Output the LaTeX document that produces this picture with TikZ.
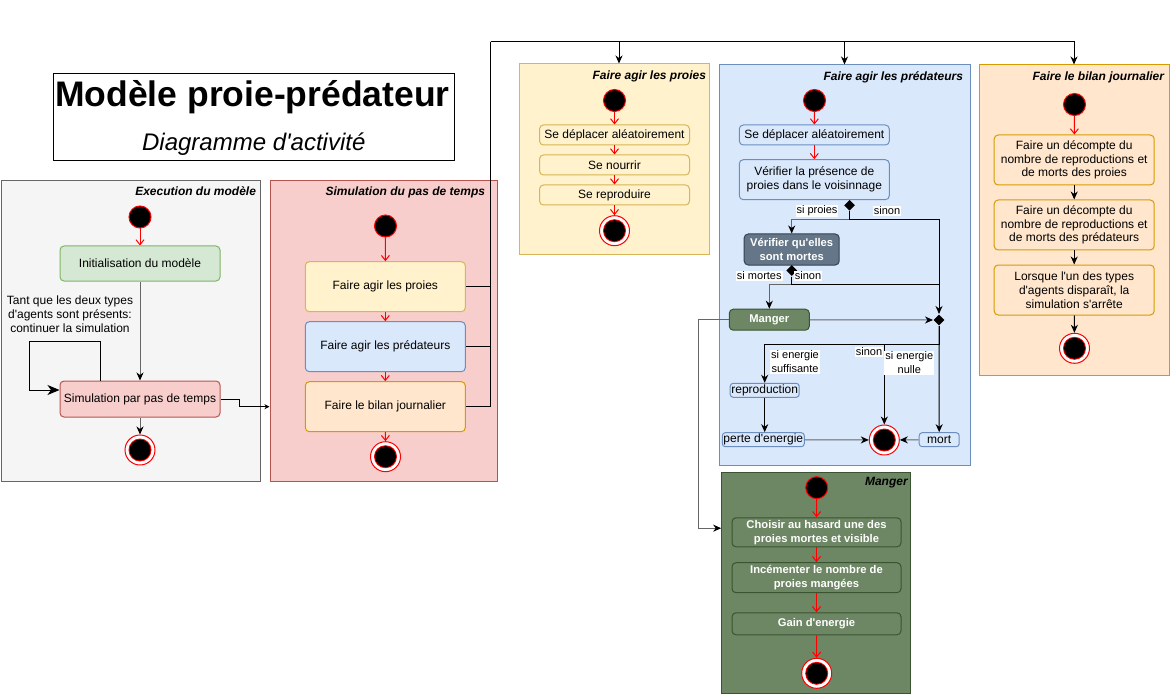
\documentclass[tikz,border=0pt]{standalone}
\usepackage{fontspec}
\setmainfont{Liberation Sans}
\usetikzlibrary{arrows.meta,shapes.geometric}

% Colours of the panels and boxes
\definecolor{execfill}{HTML}{F5F5F5}
\definecolor{execline}{HTML}{666666}
\definecolor{redfill}{HTML}{F8CECC}
\definecolor{redline}{HTML}{B85450}
\definecolor{greenfill}{HTML}{D5E8D4}
\definecolor{greenline}{HTML}{82B366}
\definecolor{yellowfill}{HTML}{FFF2CC}
\definecolor{yellowline}{HTML}{D6B656}
\definecolor{bluefill}{HTML}{DAE8FC}
\definecolor{blueline}{HTML}{6C8EBF}
\definecolor{orangefill}{HTML}{FFE6CC}
\definecolor{orangeline}{HTML}{D79B00}
\definecolor{slatefill}{HTML}{647687}
\definecolor{slateline}{HTML}{314354}
\definecolor{olivefill}{HTML}{6D8764}
\definecolor{oliveline}{HTML}{3A5431}
\definecolor{flowred}{HTML}{FF0000}
\definecolor{flowgray}{HTML}{666666}

\newcommand{\boxfont}{\fontsize{12}{13.8}\selectfont}
\newcommand{\labfont}{\fontsize{11}{14}\selectfont}
\newcommand{\boldboxfont}{\fontsize{11.2}{14}\selectfont\bfseries}
\newcommand{\ap}{\textquotesingle}

\begin{document}
\begin{tikzpicture}[x=1pt, y=-1pt, line width=1pt,
	panel/.style={draw, rectangle, inner sep=0},
	paneltitle/.style={anchor=north east, inner sep=0, font=\boxfont\bfseries\itshape},
	action/.style={draw, rectangle, rounded corners=4pt, inner sep=0, align=center, font=\boxfont},
	darkaction/.style={action, text=white, font=\boldboxfont},
	startdot/.style={circle, draw=flowred, fill=black, minimum size=22, inner sep=0},
	enddot/.style={circle, draw=flowred, fill=white, minimum size=30, inner sep=0,
		path picture={\fill[flowred] (path picture bounding box.center) circle (11.5pt);
			\fill[black] (path picture bounding box.center) circle (10.5pt);}},
	choice/.style={diamond, fill=black, minimum width=11, minimum height=11, inner sep=0},
	guard/.style={fill=white, inner sep=1, align=center, font=\labfont},
	flow/.style={draw=flowred, -{Straight Barb[length=5pt,width=8pt]}},
	link/.style={-{Stealth[length=8pt,width=7pt,inset=2.5pt]}},
	graylink/.style={draw=flowgray, -{Stealth[length=8pt,width=7pt,inset=2.5pt,color=black]}}]
	\useasboundingbox (0,0) rectangle (1170,695);

	% Draw the title box
	\node[draw, minimum width=401, minimum height=87] (titlebox) at (253.8,116.7) {};
	\node[anchor=base, font=\fontsize{35.5}{40}\selectfont\bfseries] (titletext) at (252.5,106.5) {Modèle proie-prédateur};
	\node[anchor=base, font=\fontsize{24}{28}\selectfont\itshape] (subtitletext) at (253.8,151) {Diagramme d\ap activité};

	% Draw the panels and their titles
	\node[panel, fill=execfill, draw=execline, minimum width=259, minimum height=300] (execpanel) at (130.5,331) {};
	\node[panel, fill=redfill, draw=redline, minimum width=227, minimum height=300] (simpanel) at (383.5,331) {};
	\node[panel, fill=yellowfill, draw=yellowline, minimum width=190, minimum height=190] (preypanel) at (614,159) {};
	\node[panel, fill=bluefill, draw=blueline, minimum width=251, minimum height=400] (predpanel) at (844.5,265) {};
	\node[panel, fill=orangefill, draw=orangeline, minimum width=190, minimum height=310] (bilanpanel) at (1074,220) {};
	\node[panel, fill=olivefill, draw=oliveline, minimum width=189, minimum height=221] (eatpanel) at (816.2,582.7) {};
	\node[paneltitle] (exectitle) at ([shift={(-4,6)}]execpanel.north east) {Execution du modèle};
	\node[paneltitle] (simtitle) at ([shift={(-12,6)}]simpanel.north east) {Simulation du pas de temps};
	\node[paneltitle] (preytitle) at ([shift={(-3,6.5)}]preypanel.north east) {Faire agir les proies};
	\node[paneltitle] (predtitle) at ([shift={(-7,6.5)}]predpanel.north east) {Faire agir les prédateurs};
	\node[paneltitle] (bilantitle) at ([shift={(-5,6.5)}]bilanpanel.north east) {Faire le bilan journalier};
	\node[paneltitle] (eattitle) at ([shift={(-3,5.5)}]eatpanel.north east) {Manger};

	% Execution du modele
	\node[startdot] (execstart) at (140,217) {};
	\node[action, fill=greenfill, draw=greenline, minimum width=160, minimum height=35] (initstep) at (140,263.5) {Initialisation du modèle};
	\node[action, fill=redfill, draw=redline, minimum width=160, minimum height=36] (simstep) at (140,399) {Simulation par pas de temps};
	\node[enddot] (execend) at (140,450) {};
	\node[align=center, font=\boxfont] (looptext) at (70,314) {Tant que les deux types\\d\ap agents sont présents:\\continuer la simulation};
	\draw[flow] (execstart) -- (initstep);
	\draw[graylink] (initstep) -- (simstep);
	\draw[graylink] (simstep) -- (execend);
	\draw[link, -{Stealth[length=12pt,width=10pt,inset=3.5pt]}] ([xshift=-40]simstep.north) |- (29,341.5) |- ([yshift=9]simstep.west);

	% Simulation du pas de temps
	\node[startdot] (simstart) at (385.5,226) {};
	\node[action, fill=yellowfill, draw=yellowline, minimum width=160, minimum height=50] (simprey) at (385.3,286.7) {Faire agir les proies};
	\node[action, fill=bluefill, draw=blueline, minimum width=160, minimum height=50] (simpred) at (385.3,346.7) {Faire agir les prédateurs};
	\node[action, fill=orangefill, draw=orangeline, minimum width=160, minimum height=50] (simbilan) at (385.3,406.7) {Faire le bilan journalier};
	\node[enddot] (simend) at (385.5,456.7) {};
	\draw[flow] (simstart) -- (simprey);
	\draw[flow] (simprey) -- (simpred);
	\draw[flow] (simpred) -- (simbilan);
	\draw[flow] (simbilan) -- (simend);
	\draw[link, -{Stealth[length=5pt,width=5pt,inset=1.5pt]}] (simstep.east) -| (239,406.7) -- (simpanel.west |- simbilan.west);

	% Links from the time step to the three sub-activities
	\coordinate (bus) at (490.5,42);
	\draw (simprey.east) -| (bus);
	\draw (simpred.east) -| (bus);
	\draw (simbilan.east) -| (bus);
	\draw[link] (bus) -| ([xshift=5]preypanel.north);
	\draw[link] (bus) -| (predpanel.north);
	\draw[link] (bus) -| (bilanpanel.north);

	% Faire agir les proies
	\node[startdot] (preystart) at (614.5,100.5) {};
	\node[action, fill=yellowfill, draw=yellowline, minimum width=150, minimum height=20] (preymove) at (614.5,135) {Se déplacer aléatoirement};
	\node[action, fill=yellowfill, draw=yellowline, minimum width=150, minimum height=20] (preyfeed) at (614.5,165) {Se nourrir};
	\node[action, fill=yellowfill, draw=yellowline, minimum width=150, minimum height=20] (preybreed) at (614.5,195) {Se reproduire};
	\node[enddot] (preyend) at (614.5,230.7) {};
	\draw[flow] (preystart) -- (preymove);
	\draw[flow] (preymove) -- (preyfeed);
	\draw[flow] (preyfeed) -- (preybreed);
	\draw[flow] (preybreed) -- (preyend);

	% Faire agir les predateurs
	\node[startdot] (predstart) at (814.5,100.5) {};
	\node[action, fill=bluefill, draw=blueline, minimum width=150, minimum height=20] (predmove) at (814.3,135) {Se déplacer aléatoirement};
	\node[action, fill=bluefill, draw=blueline, minimum width=150, minimum height=40] (predlook) at (814.3,179.7) {Vérifier la présence de\\proies dans le voisinnage};
	\node[choice] (lookchoice) at (849.5,205.3) {};
	\node[darkaction, fill=slatefill, draw=slateline, minimum width=95, minimum height=31] (checkdead) at (791.7,249.5) {Vérifier qu\ap elles\\sont mortes};
	\node[choice] (deadchoice) at (791.7,270.5) {};
	\node[darkaction, fill=olivefill, draw=oliveline, minimum width=80, minimum height=21] (eatstep) at (769.3,319.7) {Manger};
	\node[choice] (energychoice) at (939,320) {};
	\node[action, rounded corners=3pt, fill=bluefill, draw=blueline, minimum width=69, minimum height=14] (reprostep) at (764.7,390.3) {reproduction};
	\node[action, rounded corners=3pt, fill=bluefill, draw=blueline, minimum width=82, minimum height=14] (lossstep) at (763.3,439.7) {perte d\ap energie};
	\node[action, rounded corners=3pt, fill=bluefill, draw=blueline, minimum width=40, minimum height=14] (deathstep) at (939.2,439.7) {mort};
	\node[enddot] (predend) at (884.3,440) {};
	\draw[flow] (predstart) -- (predmove);
	\draw[flow] (predmove) -- (predlook);
	\draw[graylink] (lookchoice.south) |- ([yshift=14]checkdead.north) -- (checkdead.north);
	\draw[link] (lookchoice.south) |- ([yshift=94.5]energychoice.north) -- (energychoice.north);
	\draw[graylink] (deadchoice.south) |- ([yshift=24.3]eatstep.north) -- (eatstep.north);
	\draw (deadchoice.south) |- ([yshift=29.5]energychoice.north);
	\draw[graylink] (eatstep) -- (energychoice);
	\draw[link] (energychoice.south) |- ([yshift=38.3]reprostep.north) -- (reprostep.north);
	\draw[link] ([yshift=80]predend.north) -- (predend.north);
	\draw[link] (energychoice.south) -- (deathstep.north);
	\draw[link] (reprostep.south) -- (reprostep.south |- lossstep.north);
	\draw[graylink] (lossstep) -- (predend);
	\draw[graylink] (deathstep) -- (predend);
	\draw[graylink] (eatstep.west) -| ([xshift=-23,yshift=54.5]eatpanel.west) -- ([yshift=54.5]eatpanel.west);

	% Guards on the branches
	\node[guard] (yeslabel) at (817,210.7) {si proies};
	\node[guard] (nolabel) at (887,210.7) {sinon};
	\node[guard] (deadlabel) at (759.3,275.7) {si mortes};
	\node[guard] (alivelabel) at (808,275.7) {sinon};
	\node[guard] (enoughlabel) at (795,362) {si energie\\suffisante};
	\node[guard] (otherlabel) at (869,351.7) {sinon};
	\node[guard] (nulllabel) at (909.3,363) {si energie\\nulle};

	% Manger
	\node[startdot] (eatstart) at (816.7,487.7) {};
	\node[darkaction, fill=olivefill, draw=oliveline, minimum width=169, minimum height=29] (choosestep) at (816.5,532.3) {Choisir au hasard une des\\proies mortes et visible};
	\node[darkaction, fill=olivefill, draw=oliveline, minimum width=169, minimum height=30] (countstep) at (816.5,577.7) {Incémenter le nombre de\\proies mangées};
	\node[darkaction, fill=olivefill, draw=oliveline, minimum width=169, minimum height=22] (gainstep) at (816.5,623.8) {Gain d\ap energie};
	\node[enddot] (eatend) at (816.7,673.3) {};
	\draw[flow] (eatstart) -- (choosestep);
	\draw[flow] (choosestep) -- (countstep);
	\draw[flow] (countstep) -- (gainstep);
	\draw[flow] (gainstep) -- (eatend);

	% Faire le bilan journalier
	\node[startdot] (bilanstart) at (1074.5,104.5) {};
	\node[action, fill=orangefill, draw=orangeline, minimum width=160, minimum height=50] (countprey) at (1074.2,160) {Faire un décompte du\\nombre de reproductions et\\de morts des proies};
	\node[action, fill=orangefill, draw=orangeline, minimum width=160, minimum height=50] (countpred) at (1074.2,225) {Faire un décompte du\\nombre de reproductions et\\de morts des prédateurs};
	\node[action, fill=orangefill, draw=orangeline, minimum width=160, minimum height=50] (stopcheck) at (1074.2,290) {Lorsque l\ap un des types\\d\ap agents disparaît, la\\simulation s\ap arrête};
	\node[enddot] (bilanend) at (1074.5,348.3) {};
	\draw[flow] (bilanstart) -- (countprey);
	\draw[link] (countprey) -- (countpred);
	\draw[link] (countpred) -- (stopcheck);
	\draw[link] (stopcheck) -- (bilanend);
\end{tikzpicture}
\end{document}
